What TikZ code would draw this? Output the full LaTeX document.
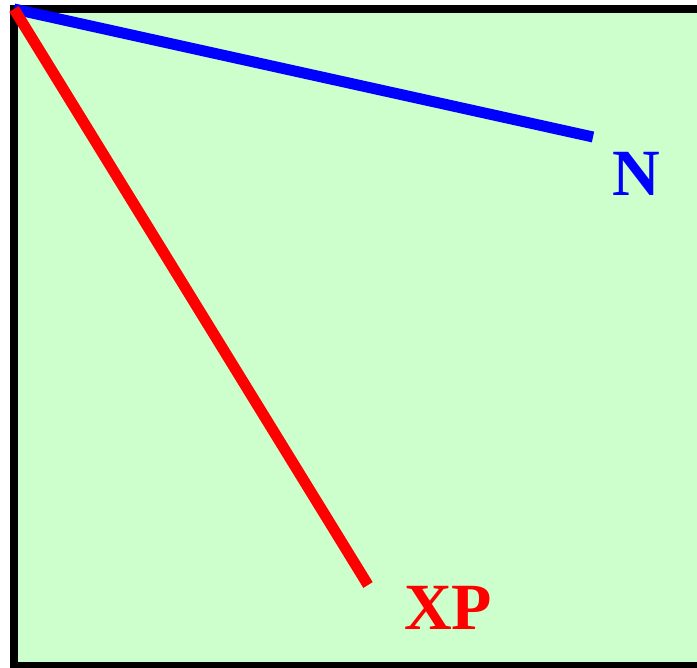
\documentclass[tikz,border=0pt]{standalone}
\usepackage{fontspec}
\setmainfont{Liberation Serif}
\begin{document}
\begin{tikzpicture}[x=1pt,y=1pt,
  lbl/.style={font=\fontsize{66}{66}\selectfont\bfseries, inner sep=0pt},
  ray/.style={line width=11pt, line cap=butt}]
\useasboundingbox (0,0) rectangle (697,668);
\clip (0,0) rectangle (697,668);
\definecolor{bgreen}{HTML}{CCFFCC}
\draw[fill=bgreen, line width=8pt] (14,2) rectangle (705,659);
\coordinate (O) at (14,659);
\coordinate (nend) at (593,531);
\coordinate (xend) at (368,83);
\draw[ray, blue] (O) -- (nend);
\draw[ray, red] (O) -- (xend);
\node[lbl, text=blue] (N) at (636,494) {N};
\node[lbl, text=red] (XP) at (448,60) {XP};
\end{tikzpicture}
\end{document}
